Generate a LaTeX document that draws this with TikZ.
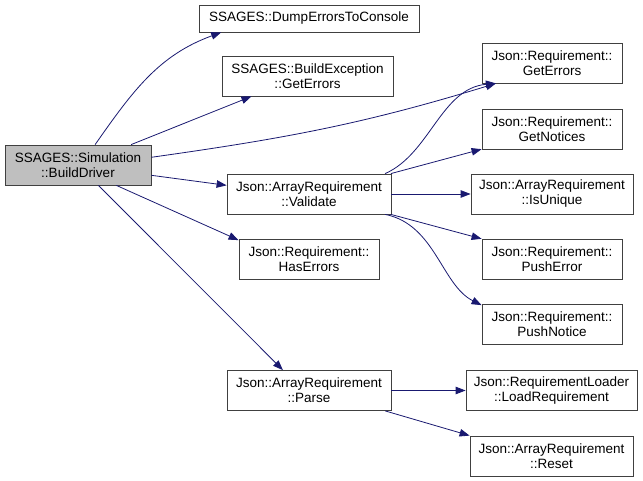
\documentclass[tikz,border=0pt]{standalone}
\usepackage{fontspec}
\setmainfont{Liberation Sans}
\usetikzlibrary{arrows.meta}
\definecolor{edgeblue}{HTML}{191970}
\definecolor{callergray}{HTML}{BFBFBF}

\begin{document}
\begin{tikzpicture}[x=1pt,y=-1pt]
    % y axis points down, so positions are read straight off the pixel grid
    \tikzset{
      fn/.style={draw=black!75,line width=0.8pt,fill=white,align=center,
        inner sep=0pt,minimum height=40pt,font=\fontsize{13.5}{15}\selectfont},
      call/.style={draw=edgeblue,line width=0.8pt,
        -{Triangle[length=10pt,width=7.5pt]}}}
    \useasboundingbox (0,0) rectangle (643,481);
    % caller
    \node[fn,fill=callergray,minimum width=146pt] (drv) at (78,165)
      {SSAGES::Simulation\\::BuildDriver};
    % first column of callees
    \node[fn,minimum width=220pt,minimum height=27pt] (dump) at (309,18.5)
      {SSAGES::DumpErrorsToConsole};
    \node[fn,minimum width=171pt] (bexc) at (307.5,76) {SSAGES::BuildException\\::GetErrors};
    \node[fn,minimum width=164pt] (valid) at (309,194) {Json::ArrayRequirement\\::Validate};
    \node[fn,minimum width=140pt] (haserr) at (309,259) {Json::Requirement::\\HasErrors};
    \node[fn,minimum width=164pt] (parse) at (309,390.5) {Json::ArrayRequirement\\::Parse};
    % second column of callees
    \node[fn,minimum width=140pt] (geterr) at (552,63) {Json::Requirement::\\GetErrors};
    \node[fn,minimum width=140pt] (getnot) at (552,129) {Json::Requirement::\\GetNotices};
    \node[fn,minimum width=162pt] (isuniq) at (552,194) {Json::ArrayRequirement\\::IsUnique};
    \node[fn,minimum width=140pt] (pusherr) at (552,259) {Json::Requirement::\\PushError};
    \node[fn,minimum width=140pt] (pushnot) at (552,324) {Json::Requirement::\\PushNotice};
    \node[fn,minimum width=171pt] (loadreq) at (551.5,390.5) {Json::RequirementLoader\\::LoadRequirement};
    \node[fn,minimum width=163pt] (reset) at (551.5,456) {Json::ArrayRequirement\\::Reset};
    % calls from BuildDriver
    \draw[call] (drv.50) to[out=55,in=200] (dump.189);
    \draw[call] (drv.21) -- (bexc.200);
    \draw[call] (drv.6) to[out=8,in=197] (geterr.200);
    \draw[call] (drv.-8) -- (valid.174);
    \draw[call] (drv.-28) -- (haserr.165);
    \draw[call] (drv.-45) -- (parse.142);
    % calls from Validate
    \draw[call] (valid.15) .. controls +(45,-20) and +(-55,5) .. (geterr.200);
    \draw[call] (valid.14) -- (getnot.196);
    \draw[call] (valid.east) -- (isuniq.west);
    \draw[call] (valid.-14) -- (pusherr.164);
    \draw[call] (valid.-15) .. controls +(50,10) and +(-40,-20) .. (pushnot.165);
    % calls from Parse
    \draw[call] (parse.east) -- (loadreq.west);
    \draw[call] (parse.-15) -- (reset.north west);
\end{tikzpicture}
\end{document}
